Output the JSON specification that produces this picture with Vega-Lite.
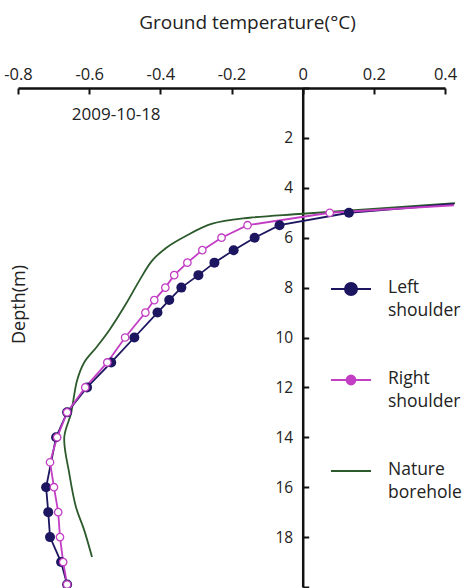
{
  "$schema": "https://vega.github.io/schema/vega-lite/v6.json",
  "width": 427,
  "height": 499,
  "autosize": {"type": "none"},
  "padding": {"left": 18, "top": 88, "right": 19, "bottom": 1},
  "background": "white",
  "config": {
    "view": {"stroke": null},
    "font": "Open Sans",
    "axis": {"grid": false, "domainColor": "#111", "tickColor": "#111", "labelColor": "#222", "titleColor": "#222", "labelFont": "Open Sans", "titleFont": "Open Sans", "titleFontWeight": "normal"}
  },
  "datasets": {
    "profiles": [
      {"series": "Left shoulder", "temp": 0.425, "depth": 4.65},
      {"series": "Left shoulder", "temp": 0.13, "depth": 5.0},
      {"series": "Left shoulder", "temp": -0.065, "depth": 5.5},
      {"series": "Left shoulder", "temp": -0.135, "depth": 6.0},
      {"series": "Left shoulder", "temp": -0.194, "depth": 6.5},
      {"series": "Left shoulder", "temp": -0.248, "depth": 7.0},
      {"series": "Left shoulder", "temp": -0.293, "depth": 7.5},
      {"series": "Left shoulder", "temp": -0.341, "depth": 8.0},
      {"series": "Left shoulder", "temp": -0.375, "depth": 8.5},
      {"series": "Left shoulder", "temp": -0.408, "depth": 9.0},
      {"series": "Left shoulder", "temp": -0.473, "depth": 10.0},
      {"series": "Left shoulder", "temp": -0.538, "depth": 11.0},
      {"series": "Left shoulder", "temp": -0.606, "depth": 12.0},
      {"series": "Left shoulder", "temp": -0.662, "depth": 13.0},
      {"series": "Left shoulder", "temp": -0.693, "depth": 14.0},
      {"series": "Left shoulder", "temp": -0.721, "depth": 16.0},
      {"series": "Left shoulder", "temp": -0.715, "depth": 17.0},
      {"series": "Left shoulder", "temp": -0.71, "depth": 18.0},
      {"series": "Left shoulder", "temp": -0.679, "depth": 19.0},
      {"series": "Left shoulder", "temp": -0.662, "depth": 19.9},
      {"series": "Right shoulder", "temp": 0.425, "depth": 4.7},
      {"series": "Right shoulder", "temp": 0.076, "depth": 5.0},
      {"series": "Right shoulder", "temp": -0.155, "depth": 5.5},
      {"series": "Right shoulder", "temp": -0.228, "depth": 6.0},
      {"series": "Right shoulder", "temp": -0.282, "depth": 6.5},
      {"series": "Right shoulder", "temp": -0.324, "depth": 7.0},
      {"series": "Right shoulder", "temp": -0.361, "depth": 7.5},
      {"series": "Right shoulder", "temp": -0.386, "depth": 8.0},
      {"series": "Right shoulder", "temp": -0.417, "depth": 8.5},
      {"series": "Right shoulder", "temp": -0.442, "depth": 9.0},
      {"series": "Right shoulder", "temp": -0.499, "depth": 10.0},
      {"series": "Right shoulder", "temp": -0.549, "depth": 11.0},
      {"series": "Right shoulder", "temp": -0.611, "depth": 12.0},
      {"series": "Right shoulder", "temp": -0.662, "depth": 13.0},
      {"series": "Right shoulder", "temp": -0.69, "depth": 14.0},
      {"series": "Right shoulder", "temp": -0.71, "depth": 15.0},
      {"series": "Right shoulder", "temp": -0.699, "depth": 16.0},
      {"series": "Right shoulder", "temp": -0.687, "depth": 17.0},
      {"series": "Right shoulder", "temp": -0.682, "depth": 18.0},
      {"series": "Right shoulder", "temp": -0.673, "depth": 19.0},
      {"series": "Right shoulder", "temp": -0.662, "depth": 19.9}
    ],
    "borehole": [
      {"series": "Nature borehole", "temp": 0.428, "depth": 4.62},
      {"series": "Nature borehole", "temp": 0.0, "depth": 5.04},
      {"series": "Nature borehole", "temp": -0.149, "depth": 5.2},
      {"series": "Nature borehole", "temp": -0.254, "depth": 5.44},
      {"series": "Nature borehole", "temp": -0.327, "depth": 5.92},
      {"series": "Nature borehole", "temp": -0.383, "depth": 6.4},
      {"series": "Nature borehole", "temp": -0.423, "depth": 6.92},
      {"series": "Nature borehole", "temp": -0.459, "depth": 7.72},
      {"series": "Nature borehole", "temp": -0.496, "depth": 8.64},
      {"series": "Nature borehole", "temp": -0.544, "depth": 9.72},
      {"series": "Nature borehole", "temp": -0.58, "depth": 10.4},
      {"series": "Nature borehole", "temp": -0.614, "depth": 11.0},
      {"series": "Nature borehole", "temp": -0.634, "depth": 11.72},
      {"series": "Nature borehole", "temp": -0.651, "depth": 13.04},
      {"series": "Nature borehole", "temp": -0.67, "depth": 14.0},
      {"series": "Nature borehole", "temp": -0.656, "depth": 15.44},
      {"series": "Nature borehole", "temp": -0.637, "depth": 16.8},
      {"series": "Nature borehole", "temp": -0.614, "depth": 17.72},
      {"series": "Nature borehole", "temp": -0.592, "depth": 18.8}
    ],
    "notes": [
      {"label": "2009-10-18", "temp": -0.524, "depth": 1.1}
    ]
  },
  "layer": [
    {
      "data": {"name": "borehole"},
      "mark": {"type": "line", "strokeWidth": 1.8, "interpolate": "catmull-rom"},
      "encoding": {
        "x": {
          "field": "temp", "type": "quantitative",
          "scale": {"domain": [-0.8, 0.4], "nice": false, "zero": false},
          "axis": {
            "orient": "top",
            "title": "Ground temperature(°C)",
            "titleFontSize": 19,
            "titleX": 229,
            "titleY": -60,
            "titleAlign": "center",
            "titleBaseline": "alphabetic",
            "values": [-0.8, -0.6, -0.4, -0.2, 0, 0.2, 0.4],
            "labelExpr": "datum.value == 0 ? '0' : (datum.value < 0 ? '-' + format(-datum.value, '.1f') : format(datum.value, '.1f'))",
            "labelFontSize": 16.5,
            "labelFlush": false,
            "labelOverlap": false,
            "labelPadding": 12,
            "tickSize": -6,
            "tickWidth": 2,
            "domainWidth": 2.5
          }
        },
        "y": {
          "field": "depth", "type": "quantitative",
          "scale": {"domain": [0, 20], "reverse": true, "nice": false, "zero": false},
          "axis": {
            "orient": "left",
            "offset": -284.7,
            "title": "Depth(m)",
            "titleFontSize": 18,
            "titleX": -283,
            "titleY": 216,
            "titleAlign": "center",
            "titleBaseline": "middle",
            "titleAngle": -90,
            "values": [0, 2, 4, 6, 8, 10, 12, 14, 16, 18, 20],
            "labelExpr": "datum.value == 0 || datum.value == 20 ? '' : datum.label",
            "labelFontSize": 15.5,
            "labelFlush": false,
            "labelOverlap": false,
            "labelPadding": 16,
            "tickSize": -6,
            "tickWidth": 2,
            "domainWidth": 2.5
          }
        },
        "order": {"field": "depth", "type": "quantitative"},
        "color": {
          "field": "series", "type": "nominal",
          "scale": {"domain": ["Left shoulder", "Right shoulder", "Nature borehole"], "range": ["#1c1660", "#c23ec4", "#2c5a2c"]},
          "legend": {
            "orient": "none",
            "legendX": 312,
            "legendY": 180,
            "title": null,
            "symbolSize": 1600,
            "symbolType": "circle",
            "rowPadding": 39,
            "labelFontSize": 17.5,
            "labelFont": "Open Sans",
            "labelColor": "#222",
            "labelOffset": 16,
            "labelExpr": "split(datum.label, ' ')",
            "encode": {
              "symbols": {
                "update": {
                  "shape": {"signal": "datum.value === 'Nature borehole' ? 'M-1,0L1,0' : (datum.value === 'Left shoulder' ? 'M-1,0L-0.3,0M0.3,0L1,0M-0.3,0A0.3,0.3,0,1,0,0.3,0A0.3,0.3,0,1,0,-0.3,0' : 'M-1,0L-0.22,0M0.22,0L1,0M-0.22,0A0.22,0.22,0,1,0,0.22,0A0.22,0.22,0,1,0,-0.22,0')"},
                  "fill": {"signal": "datum.value === 'Left shoulder' ? '#1c1660' : (datum.value === 'Right shoulder' ? 'white' : 'transparent')"},
                  "strokeWidth": {"value": 2},
                  "opacity": {"value": 1}
                }
              },
              "labels": {
                "update": {
                  "lineHeight": {"value": 23},
                  "baseline": {"value": "alphabetic"},
                  "dy": {"value": 4}
                }
              }
            }
          }
        }
      }
    },
    {
      "data": {"name": "profiles"},
      "mark": {"type": "line", "strokeWidth": 1.8},
      "encoding": {
        "x": {"field": "temp", "type": "quantitative"},
        "y": {"field": "depth", "type": "quantitative"},
        "order": {"field": "depth", "type": "quantitative"},
        "color": {"field": "series", "type": "nominal"}
      }
    },
    {
      "data": {"name": "profiles"},
      "transform": [{"filter": "datum.series === 'Left shoulder' && datum.depth >= 4.9"}],
      "mark": {"type": "point", "shape": "circle", "filled": true, "size": 100, "opacity": 1},
      "encoding": {
        "x": {"field": "temp", "type": "quantitative"},
        "y": {"field": "depth", "type": "quantitative"},
        "color": {"field": "series", "type": "nominal"}
      }
    },
    {
      "data": {"name": "profiles"},
      "transform": [{"filter": "datum.series === 'Right shoulder' && datum.depth >= 4.9"}],
      "mark": {"type": "point", "shape": "circle", "filled": false, "fill": "white", "size": 55, "strokeWidth": 1.3, "opacity": 1},
      "encoding": {
        "x": {"field": "temp", "type": "quantitative"},
        "y": {"field": "depth", "type": "quantitative"},
        "color": {"field": "series", "type": "nominal"}
      }
    },
    {
      "data": {"name": "notes"},
      "mark": {"type": "text", "font": "Open Sans", "fontSize": 17, "color": "#222", "align": "center", "baseline": "middle"},
      "encoding": {
        "x": {"field": "temp", "type": "quantitative"},
        "y": {"field": "depth", "type": "quantitative"},
        "text": {"field": "label"}
      }
    }
  ]
}
